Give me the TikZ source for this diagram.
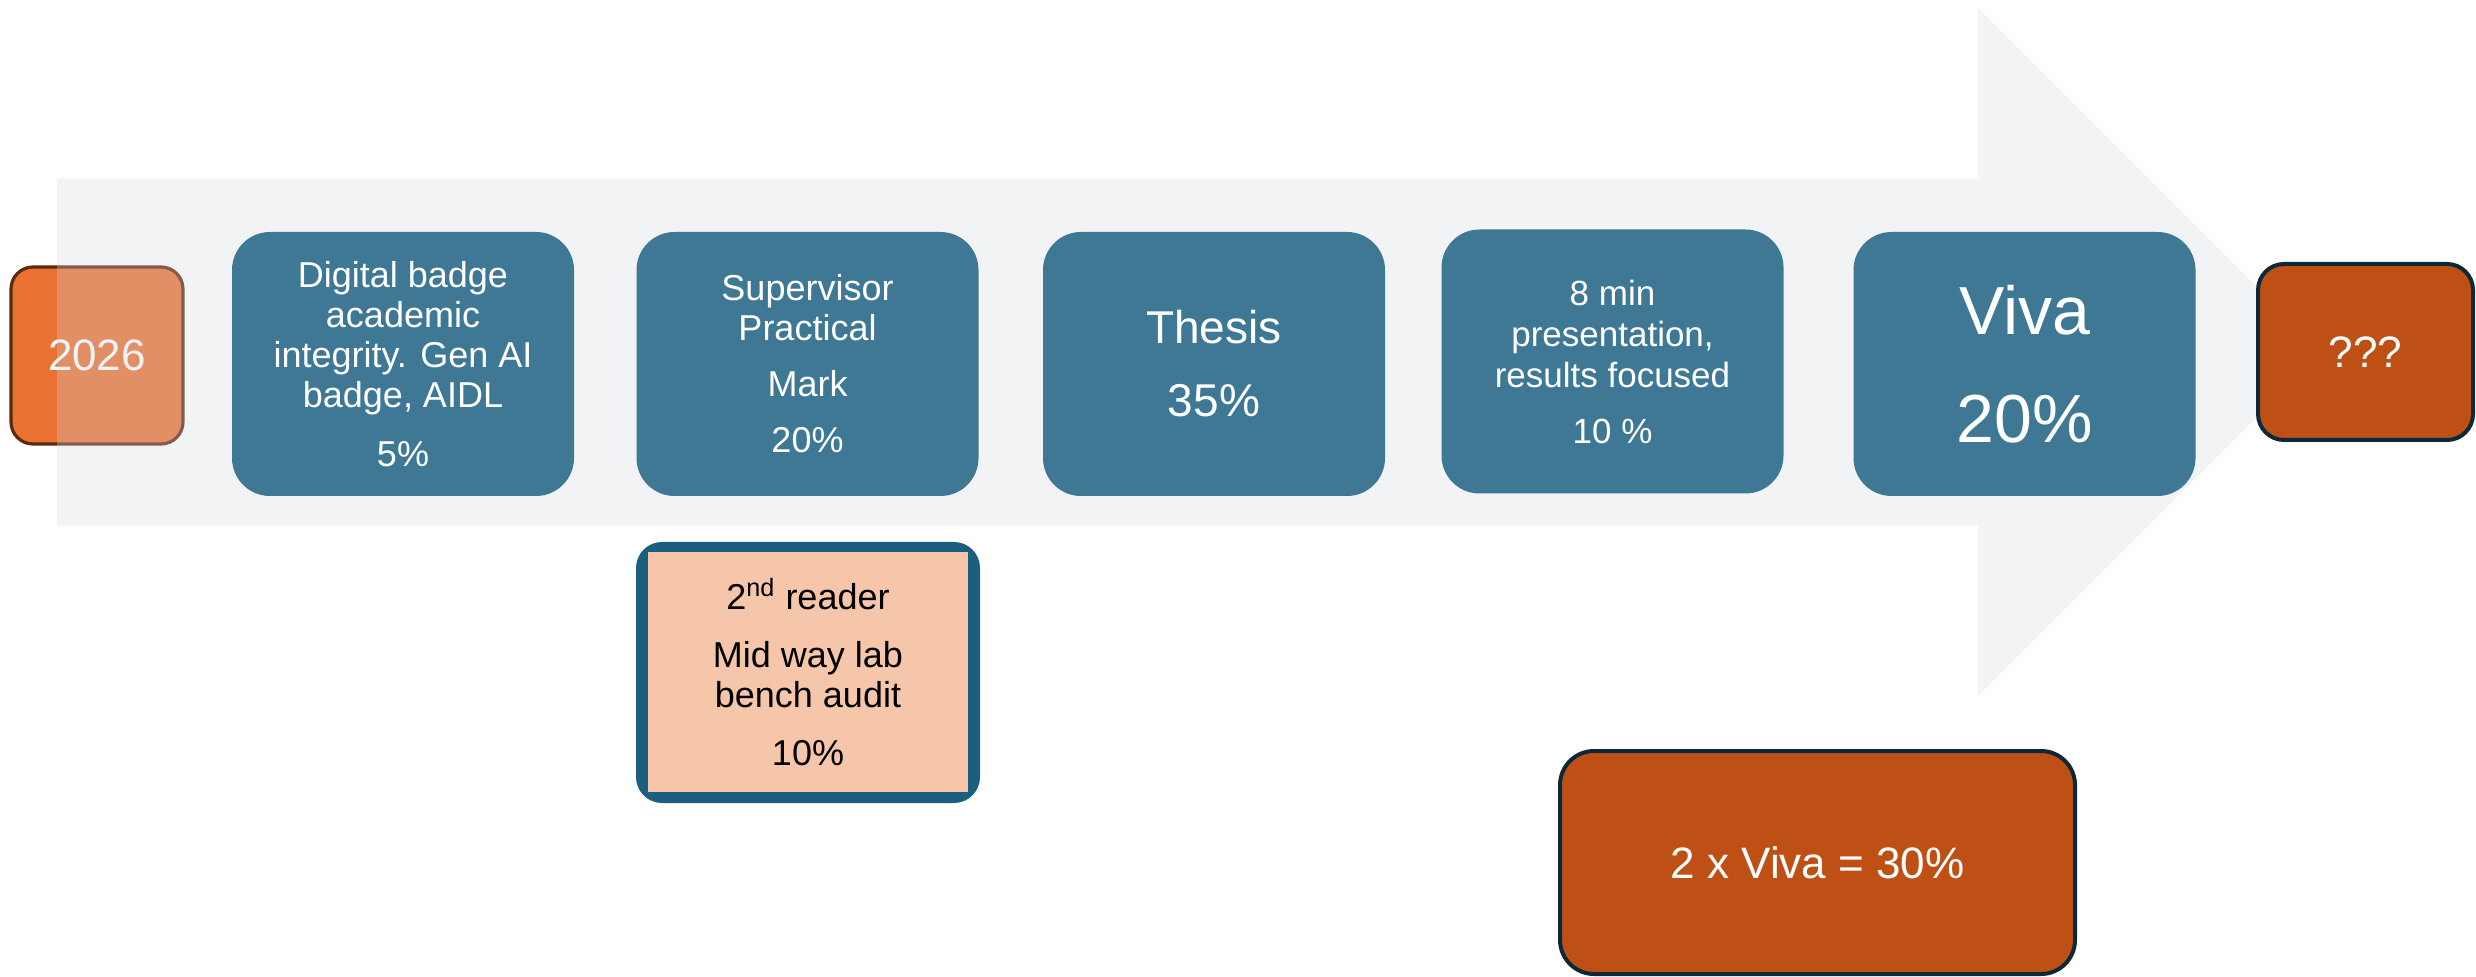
\documentclass[tikz,border=0pt]{standalone}
\usepackage{fontspec}
\setmainfont{Liberation Sans}
\definecolor{bluebox}{HTML}{3E7894}
\definecolor{arrowgray}{RGB}{211,214,219}
\definecolor{orangeA}{HTML}{E97132}
\definecolor{orangeB}{HTML}{5E2A0E}
\definecolor{rustfill}{HTML}{BF5015}
\definecolor{darkline}{HTML}{0D2937}
\definecolor{readerblue}{HTML}{1B5E80}
\definecolor{peach}{HTML}{F6C6AB}
\begin{document}
\begin{tikzpicture}[x=0.5pt,y=-0.5pt,
  stagebox/.style={fill=bluebox, rounded corners=19pt, minimum width=171pt,
    minimum height=132pt, text=white, align=center, inner sep=0pt,
    font=\fontsize{18}{20}\selectfont},
  rustbox/.style={fill=rustfill, draw=darkline, line width=2pt, text=white,
    align=center, inner sep=0pt, font=\fontsize{22}{26}\selectfont}]
\useasboundingbox (0,0) rectangle (2476,977);
% start box (under the translucent arrow)
\node[fill=orangeA, draw=orangeB, line width=1.6pt, rounded corners=11pt,
  minimum width=86pt, minimum height=88.5pt, text=white, inner sep=0pt,
  font=\fontsize{22}{26}\selectfont] (y2026) at (97,355.5) {2026};
% big arrow
\fill[arrowgray, fill opacity=0.3]
  (57,178.6) -- (1978,178.6) -- (1978,8) -- (2322,352) -- (1978,696)
  -- (1978,525.7) -- (57,525.7) -- cycle;
% stages
\node[stagebox] (b1) at (403,364)
  {Digital badge\\academic\\integrity. Gen AI\\badge, AIDL\\[9.5pt]5\%};
\node[stagebox] (b2) at (807.5,364)
  {Supervisor\\Practical\\[8pt]Mark\\[8pt]20\%};
\node[stagebox, font=\fontsize{23}{27}\selectfont] (b3) at (1214,364)
  {Thesis\\[9.5pt]35\%};
\node[stagebox, font=\fontsize{17.5}{20.5}\selectfont] (b4) at (1612.5,361.5)
  {8 min\\presentation,\\results focused\\[7.5pt]10 \%};
\node[stagebox, font=\fontsize{34}{40}\selectfont] (b5) at (2024.5,364)
  {Viva\\[14pt]20\%};
% second reader
\node[fill=readerblue, rounded corners=13pt, minimum width=172pt,
  minimum height=130.5pt, inner sep=0pt] (reader) at (808,672.5) {};
\node[fill=peach, minimum width=160pt, minimum height=120pt, inner sep=0pt,
  align=center, font=\fontsize{18}{20}\selectfont] (readerin) at (808,672)
  {2\textsuperscript{nd} reader\\[9pt]Mid way lab\\bench audit\\[9pt]10\%};
% end box
\node[rustbox, rounded corners=13pt, minimum width=107.5pt, minimum height=88pt]
  (q) at (2365.5,352) {???};
% two vivas
\node[rustbox, rounded corners=17pt, minimum width=257.5pt, minimum height=111.5pt]
  (viva2) at (1817.5,862.5) {2 x Viva = 30\%};
\end{tikzpicture}
\end{document}
